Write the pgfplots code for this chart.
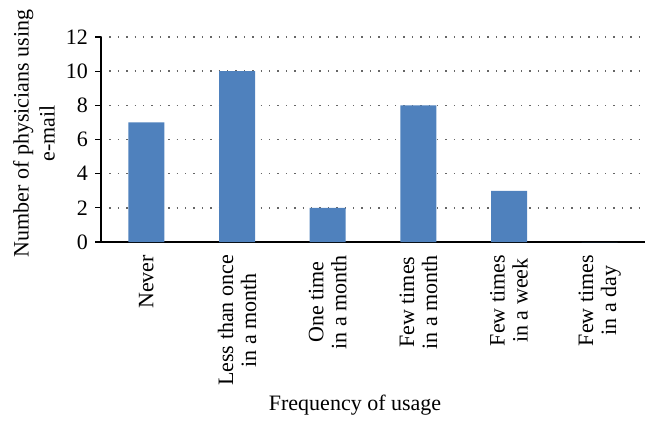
\documentclass[border=0pt]{standalone}
\usepackage{pgfplots}
\pgfplotsset{compat=1.18}
\usepackage{fontspec}
\setmainfont{Liberation Serif}
\definecolor{barblue}{HTML}{4F81BD}
\begin{document}
\begin{tikzpicture}
\begin{axis}[
  scale only axis,
  width=272pt, height=102.5pt,
  axis lines=left,
  axis line style={-, black, line width=0.7pt},
  xmin=-0.5, xmax=5.5,
  ymin=0, ymax=12,
  ytick={0,2,...,12},
  xtick={0,...,5},
  xticklabels={Never, Less than once\\in a month, One time\\in a month, Few times\\in a month, Few times\\in a week, Few times\\in a day},
  x tick label style={rotate=90, anchor=east, align=center, font=\fontsize{11}{11.5}\selectfont},
  y tick label style={font=\fontsize{11}{12}\selectfont},
  major x tick style={draw=none},
  tick align=outside,
  major tick length=3pt,
  ytick style={black, line width=0.6pt},
  extra x ticks={-0.5,0.5,...,5.5},
  extra x tick labels={},
  extra x tick style={tick style={black, line width=0.6pt}, major tick length=3pt, grid=none},
  ymajorgrids,
  major grid style={gray!80!black, line width=0.7pt, dash pattern=on 0.7pt off 3.5pt},
  /pgf/number format/assume math mode=true,
  every axis y label/.style={at={(rel axis cs:-0.123,0.53)}, rotate=90, anchor=center, align=center, font=\fontsize{11}{13}\selectfont},
  every axis x label/.style={at={(rel axis cs:0.467,-0.795)}, anchor=center, font=\fontsize{11}{13}\selectfont},
  ylabel={Number of physicians using\\e-mail},
  xlabel={Frequency of usage},
  clip=false,
]
\addplot[ybar, bar width=18pt, fill=barblue, draw=none]
  coordinates {(0,7) (1,10) (2,2) (3,8) (4,3) (5,0)};
\path (rel axis cs:-0.1857,-0.912) rectangle (rel axis cs:1.0294,1.1805);
\end{axis}
\end{tikzpicture}
\end{document}
